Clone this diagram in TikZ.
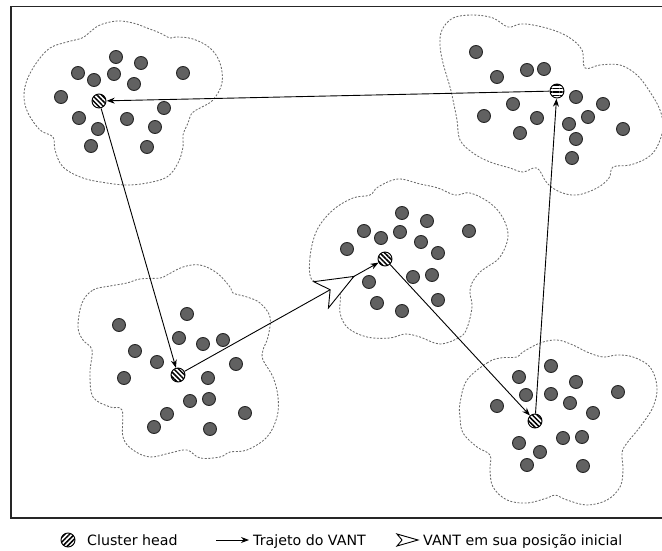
\documentclass[tikz,border=0pt]{standalone}
\usepackage{fontspec}
\setmainfont{DejaVu Sans}
\usetikzlibrary{positioning,arrows.meta,patterns.meta,decorations.markings}

\begin{document}
\begin{tikzpicture}[
  x=1pt, y=-1pt, >=Stealth,
  font=\fontsize{14.2}{17}\selectfont,
  sensor/.style={circle, draw=black!85, fill=black!62, line width=0.9pt,
                 minimum size=13pt, inner sep=0pt},
  chead/.style={circle, draw=black, line width=0.9pt, minimum size=14pt,
                inner sep=0pt,
                pattern={Lines[angle=#1, distance=3.4pt, line width=1.5pt]}},
  chead/.default=-45,
  zone/.style={draw=black!58, line width=0.85pt, dash pattern=on 2pt off 1.6pt},
  route/.style={-{Stealth[length=8pt, width=6pt]}, line width=0.9pt},
  vant/.style={postaction={decorate, decoration={markings,
      mark=at position -27pt with {\arrow[line width=0.9pt]
        {Stealth[length=40pt, width=32pt, inset=11pt, fill=white]}}}}}
]
\useasboundingbox (0,0) rectangle (662,551);
\draw[line width=1.3pt, black!85] (664,6.5) -| (11,518) -- (664,518);

% coverage areas
\draw[zone] plot[smooth cycle, tension=0.6] coordinates {
  (50,48) (67,42) (82,38) (90,32) (100,25) (117,21) (133,23) (147,28)
  (160,33) (170,38) (177,37) (193,39) (210,48) (220,63) (222,83) (213,100)
  (200,108) (192,113) (188,123) (183,135) (183,147) (178,163) (167,177)
  (147,183) (127,185) (107,183) (83,178) (63,167) (55,150) (53,137)
  (40,130) (28,113) (24,97) (27,80) (37,62)};
\draw[zone] plot[smooth cycle, tension=0.6] coordinates {
  (442,30) (453,18) (473,15) (493,18) (508,27) (520,24) (533,25) (553,30)
  (570,38) (582,50) (585,68) (600,65) (620,65) (637,75) (650,92) (660,110)
  (663,128) (657,147) (647,158) (630,165) (613,167) (609,178) (597,188)
  (577,195) (560,192) (547,183) (537,168) (523,172) (510,168) (490,162)
  (473,153) (460,140) (457,120) (453,100) (450,87) (443,63) (440,45)};
\draw[zone] plot[smooth cycle, tension=0.6] coordinates {
  (312,280) (310,257) (317,230) (333,210) (353,198) (370,195) (378,187)
  (398,179) (420,184) (438,188) (455,195) (470,193) (490,203) (503,218)
  (508,237) (500,257) (487,267) (480,272) (472,283) (470,293) (472,307)
  (467,328) (460,337) (440,344) (420,337) (405,334) (390,338) (367,337)
  (348,328) (340,313) (340,293) (330,283)};
\draw[zone] plot[smooth cycle, tension=0.6] coordinates {
  (82,303) (93,290) (110,286) (127,283) (140,279) (160,278) (167,275)
  (183,267) (200,265) (217,273) (230,287) (233,293) (247,297) (260,303)
  (270,317) (268,337) (263,350) (263,360) (273,377) (278,397) (277,417)
  (267,437) (247,450) (230,452) (220,457) (200,458) (187,450) (170,453)
  (150,457) (133,450) (123,437) (122,410) (110,407) (93,397) (90,373)
  (92,350) (83,340) (78,327)};
\draw[zone] plot[smooth cycle, tension=0.6] coordinates {
  (467,380) (487,363) (500,358) (517,357) (523,352) (540,343) (557,340)
  (573,345) (587,352) (603,357) (617,355) (633,357) (650,367) (657,387)
  (653,407) (640,427) (627,443) (622,453) (623,470) (620,487) (607,500)
  (587,505) (567,500) (555,495) (547,498) (527,503) (507,500) (493,487)
  (490,470) (490,455) (477,447) (463,433) (460,417) (460,403)};

% sensor nodes
\foreach \x/\y [count=\i] in {116/57, 141/63, 78/73, 94/80, 114/74, 134/84,
    183/73, 61/97, 164/108, 79/118, 127/119, 98/129, 155/127, 91/146, 147/147}
  \node[sensor] (a\i) at (\x,\y) {};
\foreach \x/\y [count=\i] in {476/52, 497/77, 527/70, 544/69, 576/97, 603/104,
    513/104, 484/116, 537/118, 588/117, 569/124, 623/129, 520/133, 576/139, 572/158}
  \node[sensor] (b\i) at (\x,\y) {};
\foreach \x/\y [count=\i] in {402/213, 427/221, 364/231, 381/238, 400/232,
    421/242, 469/231, 347/249, 438/253, 369/282, 413/277, 432/275, 377/303,
    402/311, 438/300}
  \node[sensor] (c\i) at (\x,\y) {};
\foreach \x/\y [count=\i] in {187/314, 119/325, 179/338, 203/344, 223/340,
    135/351, 157/362, 236/364, 124/378, 208/378, 190/401, 209/399, 167/414,
    245/413, 154/427, 210/429}
  \node[sensor] (d\i) at (\x,\y) {};
\foreach \x/\y [count=\i] in {551/366, 519/377, 576/382, 618/392, 526/395,
    551/394, 570/403, 497/406, 593/413, 519/443, 563/438, 582/437, 540/452,
    527/465, 583/466}
  \node[sensor] (e\i) at (\x,\y) {};

% cluster heads
\node[chead] (cha) at (99,101) {};
\node[chead=0] (chb) at (557,91) {};
\node[chead] (chc) at (385,259) {};
\node[chead] (chd) at (178,375) {};
\node[chead] (che) at (535,421) {};

% UAV route
\draw[route, vant] (chd) -- (chc);
\draw[route] (chc) -- (che);
\draw[route] (che) -- (chb);
\draw[route] (chb) -- (cha);
\draw[route] (cha) -- (chd);

% legend
\node[chead=45] (keych) at (68,540) {};
\node[anchor=base west, inner sep=2pt] (keychtxt) at (85,545) {Cluster head};
\coordinate (keyroute) at (216,540);
\node[anchor=base west, inner sep=2pt] (keyroutetxt) at (251,545) {Trajeto do VANT};
\draw[route] (keyroute) -- ([xshift=-2pt]keyroutetxt.west |- keyroute);
\coordinate (keyvant) at (418,540);
\draw[line width=0.9pt, fill=white, line join=miter]
  (keyvant) -- ++(-21,-6) -- ++(5,6) -- ++(-5,6) -- cycle;
\node[anchor=base west, inner sep=2pt] (keyvanttxt) at (421,545)
  {VANT em sua posição inicial};
\end{tikzpicture}
\end{document}
